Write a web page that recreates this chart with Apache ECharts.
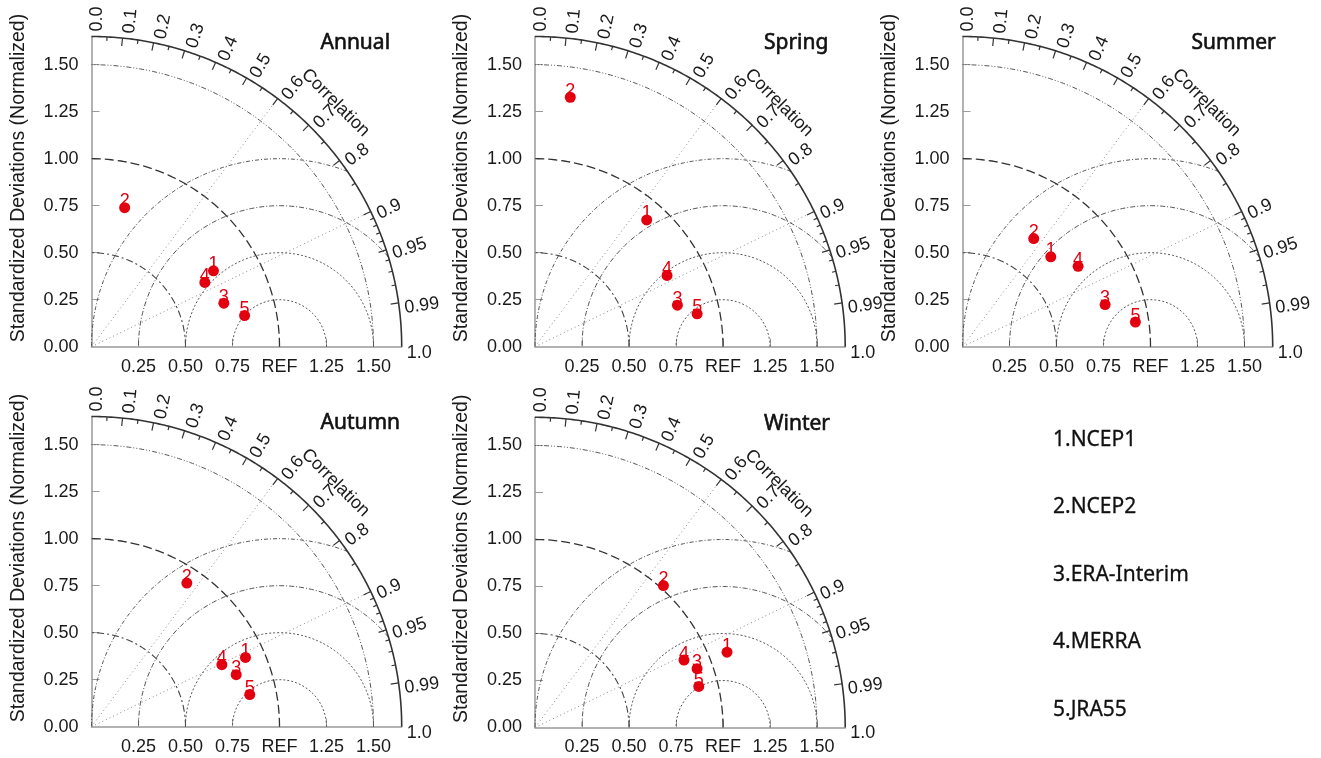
<!DOCTYPE html>
<html>
<head>
<meta charset="utf-8">
<title>Taylor diagrams</title>
<script src="https://cdn.jsdelivr.net/npm/echarts@6/dist/echarts.min.js"></script>
<style>
  html, body { margin: 0; padding: 0; background: #ffffff; }
  #chart { width: 1321px; height: 758px; }
</style>
</head>
<body>
<div id="chart"></div>
<script>
// ---- data -------------------------------------------------------------
const seasons = ['Annual', 'Spring', 'Summer', 'Autumn', 'Winter'];
const models = ['NCEP1', 'NCEP2', 'ERA-Interim', 'MERRA', 'JRA55'];

// normalized standard deviation and correlation of each reanalysis (order as in models)
const annualStd  = [0.764, 0.760, 0.741, 0.693, 0.831];
const annualCorr = [0.849, 0.232, 0.950, 0.870, 0.980];
const springStd  = [0.899, 1.340, 0.789, 0.798, 0.880];
const springCorr = [0.661, 0.140, 0.960, 0.880, 0.980];
const summerStd  = [0.670, 0.689, 0.791, 0.749, 0.929];
const summerCorr = [0.701, 0.550, 0.959, 0.821, 0.990];
const autumnStd  = [0.898, 0.917, 0.818, 0.768, 0.859];
const autumnCorr = [0.912, 0.553, 0.941, 0.903, 0.980];
const winterStd  = [1.097, 1.018, 0.917, 0.870, 0.898];
const winterCorr = [0.931, 0.671, 0.940, 0.911, 0.970];

const stdBySeason  = [annualStd, springStd, summerStd, autumnStd, winterStd];
const corrBySeason = [annualCorr, springCorr, summerCorr, autumnCorr, winterCorr];

// axis ticks
const stdTicks = [0, 0.25, 0.5, 0.75, 1.0, 1.25, 1.5];
const xTickLabels = ['0.25', '0.50', '0.75', 'REF', '1.25', '1.50'];
const corrLabelTicks = [0.0, 0.1, 0.2, 0.3, 0.4, 0.5, 0.6, 0.7, 0.8, 0.9, 0.95, 0.99, 1.0];
const corrLabelText  = ['0.0', '0.1', '0.2', '0.3', '0.4', '0.5', '0.6', '0.7', '0.8', '0.9', '0.95', '0.99', '1.0'];
const corrMinorTicks = [0.05, 0.15, 0.25, 0.35, 0.45, 0.55, 0.65, 0.75, 0.85,
                        0.91, 0.92, 0.93, 0.94, 0.96, 0.97, 0.98];
const originArcs = [0.5, 1.0, 1.5];          // std-dev arcs
const refArcs = [0.25, 0.5, 0.75, 1.0];       // centred RMS difference arcs
const corrRays = [0.6, 0.9];

// ---- layout -----------------------------------------------------------
const UNIT = 188;                 // pixels per unit of std deviation
const RMAX = 1.65;
const SIDE = UNIT * RMAX;
const origins = [[91.5, 346.7], [535, 346.7], [962.5, 346.7], [91.5, 726.7], [535, 727.5]];

const FONT = '"Liberation Sans", Arial, sans-serif';
const TITLE_FONT = '"Noto Sans", "Open Sans", sans-serif';
const TEXT = '#1a1a1a';
const RED = '#e3000f';

// ---- geometry helpers -------------------------------------------------
function originArc(r) {
  const pts = [];
  const n = 180;
  for (let i = 0; i <= n; i++) {
    const t = (Math.PI / 2) * i / n;
    pts.push([r * Math.cos(t), r * Math.sin(t)]);
  }
  return pts;
}
function refArc(r) {
  // circle centred on (1, 0), kept inside the outer arc and x >= 0
  let t0 = 0;
  if (1 + r > RMAX) {
    const xi = (RMAX * RMAX - r * r + 1) / 2;
    const yi = Math.sqrt(RMAX * RMAX - xi * xi);
    t0 = Math.atan2(yi, xi - 1);
  }
  let t1 = Math.PI;
  if (r > 1) t1 = Math.acos(-1 / r);
  const pts = [];
  const n = 240;
  for (let i = 0; i <= n; i++) {
    const t = t0 + (t1 - t0) * i / n;
    pts.push([1 + r * Math.cos(t), r * Math.sin(t)]);
  }
  return pts;
}
function ray(c) {
  return [[0, 0], [RMAX * c, RMAX * Math.sqrt(1 - c * c)]];
}

const arcStyles = {
  0.5: { color: '#444', width: 1.1, type: [7, 3, 2, 3] },
  1.0: { color: '#333', width: 1.3, type: [9, 4] },
  1.5: { color: '#555', width: 1, type: [5, 2, 1, 2, 1, 2] }
};
const refStyles = {
  0.25: { color: '#555', width: 1, type: [2, 2] },
  0.5: { color: '#555', width: 1, type: [2, 2] },
  0.75: { color: '#555', width: 1, type: [5, 2, 1, 2] },
  1.0: { color: '#555', width: 1, type: [4, 2, 1, 2] }
};

// ---- build option -----------------------------------------------------
const grids = [], xAxes = [], yAxes = [], series = [], graphics = [];

seasons.forEach((name, k) => {
  const [ox, oy] = origins[k];
  grids.push({ left: ox, top: oy - SIDE, width: SIDE, height: SIDE, outerBoundsMode: 'none' });

  xAxes.push({
    gridIndex: k, type: 'value', min: 0, max: RMAX,
    splitLine: { show: false },
    axisLine: { show: true, lineStyle: { color: '#999', width: 1.5 } },
    axisTick: { show: true, inside: true, length: 8, lineStyle: { color: '#999' },
      customValues: stdTicks.slice(1) },
    axisLabel: { customValues: stdTicks.slice(1), margin: 11,
      formatter: v => xTickLabels[stdTicks.indexOf(v) - 1],
      fontSize: 18, fontFamily: FONT, color: TEXT }
  });
  yAxes.push({
    gridIndex: k, type: 'value', min: 0, max: RMAX,
    splitLine: { show: false },
    axisLine: { show: true, lineStyle: { color: '#999', width: 1.5 } },
    axisTick: { show: true, inside: true, length: 8, lineStyle: { color: '#999' },
      customValues: stdTicks.slice(1) },
    axisLabel: { customValues: stdTicks, margin: 13,
      formatter: v => v.toFixed(2),
      fontSize: 18, fontFamily: FONT, color: TEXT }
  });

  const base = { xAxisIndex: k, yAxisIndex: k, silent: true, clip: false, animation: false };

  originArcs.forEach(r => {
    const s = arcStyles[r];
    series.push(Object.assign({}, base, {
      type: 'line', data: originArc(r), showSymbol: false, symbol: 'none',
      lineStyle: { color: s.color, width: s.width, type: s.type }, z: 2
    }));
  });
  refArcs.forEach(r => {
    const s = refStyles[r];
    series.push(Object.assign({}, base, {
      type: 'line', data: refArc(r), showSymbol: false, symbol: 'none',
      lineStyle: { color: s.color, width: s.width, type: s.type }, z: 2
    }));
  });
  corrRays.forEach(c => {
    series.push(Object.assign({}, base, {
      type: 'line', data: ray(c), showSymbol: false, symbol: 'none',
      lineStyle: { color: '#888', width: 1, type: [1, 3] }, z: 2
    }));
  });
  // outer correlation arc
  series.push(Object.assign({}, base, {
    type: 'line', data: originArc(RMAX), showSymbol: false, symbol: 'none',
    lineStyle: { color: '#333', width: 1.6, type: 'solid' }, z: 3
  }));
  // correlation ticks (pointing inward)
  const tickData = corrLabelTicks.filter(c => c > 0 && c < 1).map(c => [c, 8])
    .concat(corrMinorTicks.map(c => [c, 4]));
  series.push(Object.assign({}, base, {
    type: 'custom', data: tickData, z: 3,
    renderItem: (params, api) => {
      const c = api.value(0), len = api.value(1);
      const s = Math.sqrt(1 - c * c);
      const p = api.coord([RMAX * c, RMAX * s]);
      return { type: 'line', shape: { x1: p[0], y1: p[1], x2: p[0] - len * c, y2: p[1] + len * s },
        style: { stroke: '#333', lineWidth: 1.2 } };
    }
  }));
  // correlation labels around the arc
  series.push(Object.assign({}, base, {
    type: 'custom', data: corrLabelTicks.map((c, i) => [c, i]), z: 4,
    renderItem: (params, api) => {
      const c = api.value(0), i = api.value(1);
      const s = Math.sqrt(1 - c * c);
      const rr = RMAX + 0.027;
      const p = api.coord([rr * c, rr * s]);
      return { type: 'text', x: p[0], y: p[1], rotation: Math.atan2(s, c),
        style: { text: corrLabelText[i], x: 0, y: 6, align: 'left', verticalAlign: 'middle',
          fontSize: 18, fontFamily: FONT, fill: TEXT } };
    }
  }));
  // arc caption
  series.push(Object.assign({}, base, {
    type: 'custom', data: [[Math.PI / 4, 1.835]], z: 4,
    renderItem: (params, api) => {
      const a = api.value(0), r = api.value(1);
      const p = api.coord([r * Math.cos(a), r * Math.sin(a)]);
      return { type: 'text', x: p[0], y: p[1], rotation: -a,
        style: { text: 'Correlation', align: 'center', verticalAlign: 'middle',
          fontSize: 18, fontFamily: FONT, fill: TEXT } };
    }
  }));
  // reanalysis points
  const std = stdBySeason[k], corr = corrBySeason[k];
  series.push({
    type: 'scatter', xAxisIndex: k, yAxisIndex: k, animation: false, z: 10,
    symbol: 'circle', symbolSize: 11, clip: false,
    itemStyle: { color: RED, opacity: 1 },
    label: { show: true, position: 'top', distance: -8, formatter: p => String(p.dataIndex + 1),
      color: RED, fontSize: 18, fontFamily: FONT },
    data: std.map((s, i) => [s * corr[i], s * Math.sqrt(1 - corr[i] * corr[i])])
  });

  // panel title and y-axis title
  graphics.push({ type: 'text', x: ox + 229, y: oy - 303.7,
    style: { text: name, fontSize: 21, fontFamily: TITLE_FONT, fill: '#111',
      stroke: '#111', lineWidth: 0.6, align: 'left', verticalAlign: 'middle' } });
  graphics.push({ type: 'text', x: ox - 73.2, y: oy - 168.7, rotation: Math.PI / 2,
    style: { text: 'Standardized Deviations (Normalized)', fontSize: 19.5, fontFamily: FONT, fill: TEXT,
      align: 'center', verticalAlign: 'middle' } });
});

// model key
models.forEach((m, i) => {
  graphics.push({ type: 'text', x: 1053, y: 440 + 67.5 * i,
    style: { text: (i + 1) + '.' + m, fontSize: 21, fontFamily: TITLE_FONT, fill: '#111',
      stroke: '#111', lineWidth: 0.3, align: 'left', verticalAlign: 'middle' } });
});

const chart = echarts.init(document.getElementById('chart'));
chart.setOption({
  backgroundColor: '#ffffff',
  animation: false,
  grid: grids,
  xAxis: xAxes,
  yAxis: yAxes,
  series: series,
  graphic: graphics
});
</script>
</body>
</html>
